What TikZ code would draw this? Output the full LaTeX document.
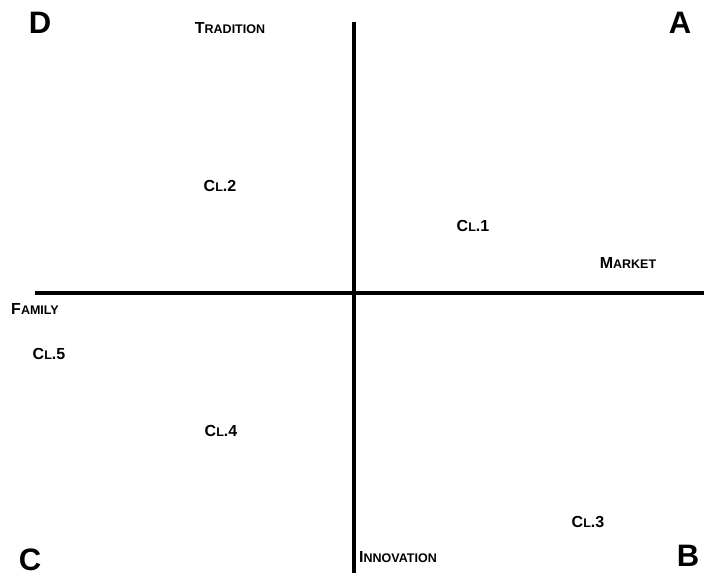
\documentclass[tikz,border=0pt]{standalone}
\usepackage{fontspec}
\setmainfont{Liberation Sans}
\newcommand{\smc}[3]{{\fontsize{16}{16}\selectfont #1}{\fontsize{12.5}{12.5}\selectfont #2}{\fontsize{16}{16}\selectfont #3}}
\begin{document}
\begin{tikzpicture}[x=1pt,y=-1pt,
  lbl/.style={font=\bfseries,inner sep=0pt,anchor=center},
  big/.style={font=\fontsize{31}{31}\selectfont\bfseries,inner sep=0pt},
  axis/.style={line width=3.3pt}]
\useasboundingbox (0,0) rectangle (704,577);
\coordinate (hl) at (35,293);
\coordinate (hr) at (704,293);
\coordinate (vt) at (354,22);
\coordinate (vb) at (354,573);
\draw[axis] (hl) -- (hr);
\draw[axis] (vt) -- (vb);
\node[big] (d) at (40,23) {D};
\node[big] (a) at (680,23) {A};
\node[big] (c) at (30,560) {C};
\node[big] (b) at (688,556) {B};
\node[lbl] (trad) at (230,28) {\smc{T}{RADITION}{}};
\node[lbl] (cl2) at (220,186) {\smc{C}{L}{.2}};
\node[lbl] (cl1) at (473,226) {\smc{C}{L}{.1}};
\node[lbl] (mkt) at (628,263) {\smc{M}{ARKET}{}};
\node[lbl] (fam) at (35,309) {\smc{F}{AMILY}{}};
\node[lbl] (cl5) at (49,354) {\smc{C}{L}{.5}};
\node[lbl] (cl4) at (221,431) {\smc{C}{L}{.4}};
\node[lbl] (cl3) at (588,522) {\smc{C}{L}{.3}};
\node[lbl] (inn) at (398,557) {\smc{I}{NNOVATION}{}};
\end{tikzpicture}
\end{document}
